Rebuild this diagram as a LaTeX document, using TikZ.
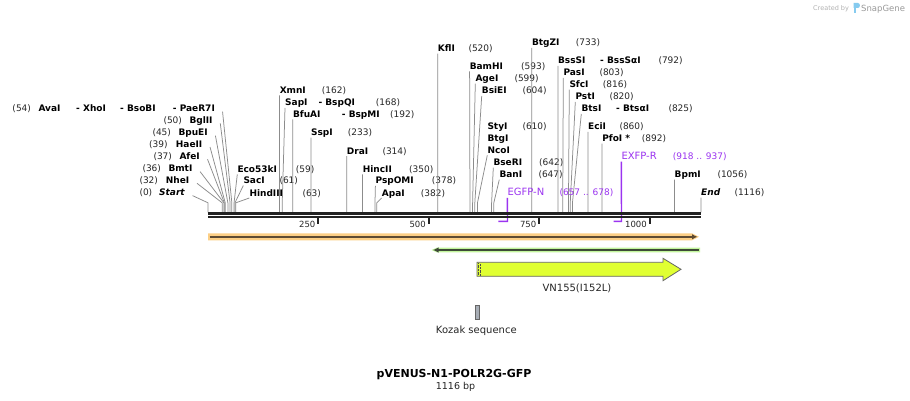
\documentclass[tikz,border=0pt]{standalone}
\usepackage{fontspec}
\setmainfont{DejaVu Sans}
\usetikzlibrary{arrows.meta}
\definecolor{lgray}{HTML}{8C8C8C}
\definecolor{prim}{HTML}{9B34F0}
\definecolor{orf}{HTML}{FCCF86}
\definecolor{orfl}{HTML}{5E4B33}
\definecolor{grn}{HTML}{C2F59C}
\definecolor{grnl}{HTML}{3E4A38}
\definecolor{vn}{HTML}{E0FF32}
\definecolor{koz}{HTML}{A8AEB6}
\definecolor{bb}{HTML}{222222}
\definecolor{logoblue}{HTML}{86CBEF}
\tikzset{
 ename/.style={inner sep=0pt, anchor=base west, font=\fontsize{9}{10}\selectfont\bfseries},
 eital/.style={ename, font=\fontsize{9}{10}\selectfont\bfseries\itshape},
 enum/.style={inner sep=0pt, anchor=base west, font=\fontsize{9}{10}\selectfont, text=black!85},
 eline/.style={draw=lgray, line width=0.75pt},
 plab/.style={inner sep=0pt, anchor=base west, font=\fontsize{10}{11}\selectfont, text=prim},
 pnum/.style={inner sep=0pt, anchor=base west, font=\fontsize{9}{10}\selectfont, text=prim},
 pline/.style={draw=prim, line width=1.4pt},
 ticklab/.style={inner sep=0pt, anchor=base east, font=\fontsize{8.5}{10}\selectfont, text=black!85},
 flab/.style={inner sep=0pt, font=\fontsize{10}{11}\selectfont, text=black!85},
}
\newcommand\sitept[2]{\coordinate (s#1) at ({208+#2*0.441756},212.3);}
% right-hand label: id, bp, label x, cap centre y, number x, text
\newcommand\enzR[6]{%
 \sitept{#1}{#2}
 \node[ename] (n#1) at (#3,#4+3.3) {#6};
 \node[enum] (p#1) at (#5,#4+3.3) {(#2)};
 \draw[eline] ([yshift=-2pt]n#1.base west) -- ([yshift=9.5pt]s#1) -- (s#1);
}
% left-hand label: id, bp, number x, cap centre y, label x, text
\newcommand\enzL[6]{%
 \sitept{#1}{#2}
 \node[enum] (p#1) at (#3,#4+3.3) {(#2)};
 \node[ename] (n#1) at (#5,#4+3.3) {#6};
 \draw[eline] ([xshift=7.5pt]n#1.base east) -- ([yshift=9.5pt]s#1) -- (s#1);
}
\begin{document}
\begin{tikzpicture}[x=1pt,y=-1pt]
\useasboundingbox (0,0) rectangle (910,401);
\fill[white] (0,0) rectangle (910,401);

% ---- left cluster ----
\sitept{AvaI}{54}
\node[enum] (pAvaI) at (12.3,111.6) {(54)};
\node[ename] (nAvaI) at (38.3,111.6) {AvaI};
\node[ename] (nXhoI) at (76,111.6) {- XhoI};
\node[ename] (nBsoBI) at (120,111.6) {- BsoBI};
\node[ename] (nPaeR) at (172.7,111.6) {- PaeR7I};
\draw[eline] ([xshift=7.5pt]nPaeR.base east) -- ([yshift=9.5pt]sAvaI) -- (sAvaI);
\enzL{BglII}{50}{163.3}{120}{189.3}{BglII}
\enzL{BpuEI}{45}{152.3}{132.3}{178.3}{BpuEI}
\enzL{HaeII}{39}{149}{143.7}{175.7}{HaeII}
\enzL{AfeI}{37}{153.3}{156}{179.3}{AfeI}
\enzL{BmtI}{36}{142.3}{168.3}{168.3}{BmtI}
\enzL{NheI}{32}{139.3}{180}{165.7}{NheI}
\sitept{Start}{0}
\node[enum] (pStart) at (139.3,195.6) {(0)};
\node[eital] (nStart) at (159,195.6) {Start};
\draw[eline] ([xshift=7.5pt]nStart.base east) -- ([yshift=9.5pt]sStart) -- (sStart);

% ---- right-hand labels ----
\enzR{Eco}{59}{237.3}{169}{295.7}{Eco53kI}
\enzR{SacI}{61}{243.3}{180.3}{279.3}{SacI}
\enzR{HindIII}{63}{249.3}{192.7}{302.3}{HindIII}
\enzR{XmnI}{162}{279.56}{90}{321.7}{XmnI}
\enzR{SapI}{168}{285}{102.7}{375.7}{SapI}
\node[ename] (nBspQI) at (318.3,106) {- BspQI};
\enzR{BfuAI}{192}{292.82}{114}{390}{BfuAI}
\node[ename] (nBspMI) at (341.7,117.3) {- BspMI};
\enzR{SspI}{233}{310.93}{132.3}{347.7}{SspI}
\enzR{DraI}{314}{346.71}{150.7}{382.3}{DraI}
\enzR{HincII}{350}{362.61}{169}{409}{HincII}
\enzR{PspOMI}{378}{375.4}{180.5}{431.7}{PspOMI}
\enzR{ApaI}{382}{381.7}{192.7}{420.7}{ApaI}
\enzR{KflI}{520}{437.71}{48.3}{468.3}{KflI}
\enzR{BamHI}{593}{469.6}{66}{521}{BamHI}
\enzR{AgeI}{599}{475.3}{78.3}{514.3}{AgeI}
\enzR{BsiEI}{604}{481.7}{90.7}{522.3}{BsiEI}
% StyI / BtgI / NcoI share one site
\sitept{StyI}{610}
\node[ename] (nStyI) at (487.3,130) {StyI};
\node[enum] (pStyI) at (522.3,130) {(610)};
\node[ename] (nBtgI) at (487.3,141.6) {BtgI};
\node[ename] (nNcoI) at (487.3,153.3) {NcoI};
\draw[eline] ([yshift=-2pt]nNcoI.base west) -- ([yshift=9.5pt]sStyI) -- (sStyI);
\enzR{BseRI}{642}{493.3}{162.3}{539}{BseRI}
\enzR{BanI}{647}{499.3}{174.3}{538.3}{BanI}
\enzR{BtgZI}{733}{531.81}{42.7}{575.7}{BtgZI}
\enzR{BssSI}{792}{557.87}{60.7}{658.3}{BssSI}
\node[ename] (nBssSa) at (600,64) {- BssSαI};
\enzR{PasI}{803}{563.3}{72.7}{599.3}{PasI}
\enzR{SfcI}{816}{569.3}{84.3}{602.7}{SfcI}
\enzR{PstI}{820}{575.3}{96.7}{609.3}{PstI}
\enzR{BtsI}{825}{581.3}{108.7}{668.3}{BtsI}
\node[ename] (nBtsa) at (616,112) {- BtsαI};
\enzR{EciI}{860}{587.91}{126.7}{619.3}{EciI}
\enzR{PfoI}{892}{602.05}{138.3}{641.7}{PfoI *}
\enzR{BpmI}{1056}{674.49}{174.3}{717.3}{BpmI}
\sitept{End}{1116}
\node[eital] (nEnd) at (701,195.6) {End};
\node[enum] (pEnd) at (734.3,195.6) {(1116)};
\draw[eline] ([yshift=-2pt]nEnd.base west) -- (sEnd);

% ---- primers ----
\node[plab] (egfp) at (507.3,195.9) {EGFP-N};
\node[pnum] (egfpn) at (559.3,195.9) {(657 .. 678)};
\coordinate (egfpB) at (507.5,221.3);
\coordinate (egfpE) at (498.3,221.3);
\draw[pline] ([yshift=-2pt]egfp.base west) -- (egfpB) -- (egfpE);
\node[plab] (exfp) at (621.3,159.6) {EXFP-R};
\node[pnum] (exfpn) at (672.7,159.6) {(918 .. 937)};
\coordinate (exfpB) at (621.5,221.3);
\coordinate (exfpE) at (613.6,221.3);
\draw[pline] ([yshift=-2pt]exfp.base west) -- (exfpB) -- (exfpE);

% ---- backbone ----
\coordinate (bbA) at (208,213.4);
\coordinate (bbB) at (701,213.4);
\coordinate (bbC) at (208,217.3);
\coordinate (bbD) at (701,217.3);
\draw[bb, line width=2.4pt] (bbA) -- (bbB);
\draw[bb, line width=2.2pt] (bbC) -- (bbD);
\foreach \v/\x in {250/318.4, 500/428.8, 750/539.3, 1000/649.8}{
  \coordinate (t\v a) at (\x,217);
  \coordinate (t\v b) at (\x,224.3);
  \draw[bb, line width=2pt] (t\v a) -- (t\v b);
  \node[ticklab] (tl\v) at (\x-2.8,227) {\v};
}

% ---- ORF bars ----
\fill[orf] (208,233.3) -- (692,233.3) -- (699,236.8) -- (692,240.3) -- (208,240.3) -- cycle;
\coordinate (oA) at (209.5,236.8);
\coordinate (oB) at (697.5,236.8);
\draw[orfl, line width=1.8pt, -{Latex[length=5.5pt,width=5.5pt]}] (oA) -- (oB);
\fill[grn] (700,247.6) -- (437,247.6) -- (431.5,250) -- (437,252.4) -- (700,252.4) -- cycle;
\coordinate (gA) at (698.5,250);
\coordinate (gB) at (433,250);
\draw[grnl, line width=1.6pt, -{Latex[length=5.5pt,width=5.5pt]}] (gA) -- (gB);

% ---- VN155 feature ----
\draw[fill=vn, draw=black!60, line width=0.8pt] (477,262.3) -- (663,262.3) -- (663,258.3) -- (681,269.3) -- (663,280.7) -- (663,276.3) -- (477,276.3) -- cycle;
\draw[black!70, line width=0.7pt, dash pattern=on 0.7pt off 0.7pt] (478.4,263.2) -- (478.4,275.6);
\draw[black!70, line width=0.7pt, dash pattern=on 0.7pt off 0.7pt] (480.2,263.9) -- (480.2,275.6);
\node[flab] (vnlab) at (577,288.3) {VN155(I152L)};

% ---- Kozak ----
\draw[fill=koz, draw=black!60, line width=0.7pt] (475.5,305.3) rectangle (479.3,319.7);
\node[flab] (kozlab) at (476.3,330.7) {Kozak sequence};

% ---- title ----
\node[inner sep=0pt, anchor=base, font=\fontsize{11}{12}\selectfont\bfseries] (title) at (454,377.3) {pVENUS-N1-POLR2G-GFP};
\node[inner sep=0pt, anchor=base, font=\fontsize{9.5}{11}\selectfont, text=black!85] (bp) at (455.5,389.3) {1116 bp};

% ---- created by ----
\node[inner sep=0pt, anchor=base west, font=\fontsize{6.5}{7}\selectfont, text=black!30] (cby) at (813,10.5) {Created by};
\fill[logoblue] (853.5,3) rectangle (856,13.5);
\fill[logoblue] (853.5,3) -- (858,3) .. controls (860.5,3) and (860.5,8) .. (858,8) -- (853.5,8) -- cycle;
\node[inner sep=0pt, anchor=base west, font=\fontsize{8.5}{9}\selectfont, text=black!40] (sg) at (861,11.5) {SnapGene};
\end{tikzpicture}
\end{document}
